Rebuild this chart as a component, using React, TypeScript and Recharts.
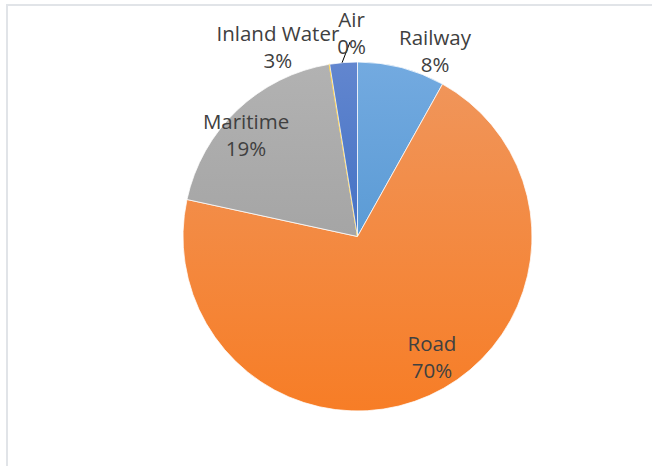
import React from "react";
import { PieChart, Pie, Cell } from "recharts";

const categories = ["Railway", "Road", "Maritime", "Air", "Inland Water"];
const shares = [8.1, 70.3, 19.0, 0.05, 2.55];
const shareLabels = ["8%", "70%", "19%", "0%", "3%"];

const data = categories.map((name, i) => ({ name, value: shares[i], label: shareLabels[i] }));

const fills = [
  ["#73AAE0", "#5B9BD5"],
  ["#F0955A", "#F77D26"],
  ["#B2B2B2", "#A5A5A5"],
  ["#FFC000", "#FFC000"],
  ["#6286CF", "#4472C4"],
];

// label placement: radius factor (of outer radius) and angle nudge (deg)
const labelLayout = [
  { r: 1.152, shift: -8.1 },
  { r: 0.812, shift: 7.4 },
  { r: 0.864, shift: 4.1 },
  { r: 1.167, shift: -7.6 },
  { r: 1.178, shift: 18.2 },
];

const RAD = Math.PI / 180;

const renderLabel = (props: any) => {
  const { cx, cy, midAngle, outerRadius, index } = props;
  const lay = labelLayout[index];
  const a = (midAngle + lay.shift) * RAD;
  const x = cx + outerRadius * lay.r * Math.cos(a);
  const y = cy - outerRadius * lay.r * Math.sin(a);
  const items: any[] = [];
  if (index === 3) {
    const b = (midAngle - 4.2) * RAD;
    const ex = cx + outerRadius * Math.cos(b);
    const ey = cy - outerRadius * Math.sin(b);
    items.push(<line key="l" x1={x - 1.5} y1={y + 9} x2={ex} y2={ey} stroke="#000" strokeWidth={1} />);
  }
  return (
    <g key={`lab-${index}`}>
      {items}
      <text
        x={x}
        y={y}
        textAnchor="middle"
        fontFamily="'Open Sans', sans-serif"
        fontSize={20.5}
        fill="#404040"
      >
        <tspan x={x} dy={-6}>{categories[index]}</tspan>
        <tspan x={x} dy={27}>{shareLabels[index]}</tspan>
      </text>
    </g>
  );
};

export default function App() {
  return (
    <div style={{ position: "absolute", left: 0, top: 0, width: 652, height: 466, background: "#fff", overflow: "hidden" }}>
      <div style={{ position: "absolute", left: 6, top: 4, width: 700, height: 500, borderLeft: "2px solid #E1E4E8", borderTop: "2px solid #E1E4E8" }} />
      <PieChart width={652} height={466} style={{ position: "absolute", left: 0, top: 0 }}>
        <defs>
          {fills.map((f, i) => (
            <linearGradient key={i} id={`g${i}`} x1="0" y1="0" x2="0" y2="1">
              <stop offset="0%" stopColor={f[0]} />
              <stop offset="100%" stopColor={f[1]} />
            </linearGradient>
          ))}
        </defs>
        <Pie
          data={data}
          dataKey="value"
          nameKey="name"
          cx={352.5}
          cy={231.5}
          outerRadius={174.5}
          startAngle={90}
          endAngle={-270}
          stroke="#ffffff"
          strokeWidth={0.75}
          label={renderLabel}
          labelLine={false}
          isAnimationActive={false}
        >
          {data.map((d, i) => (
            <Cell key={d.name} fill={`url(#g${i})`} stroke={i === 3 ? "#FFC000" : "#ffffff"} strokeWidth={i === 3 ? 0.8 : 0.75} />
          ))}
        </Pie>
      </PieChart>
    </div>
  );
}
